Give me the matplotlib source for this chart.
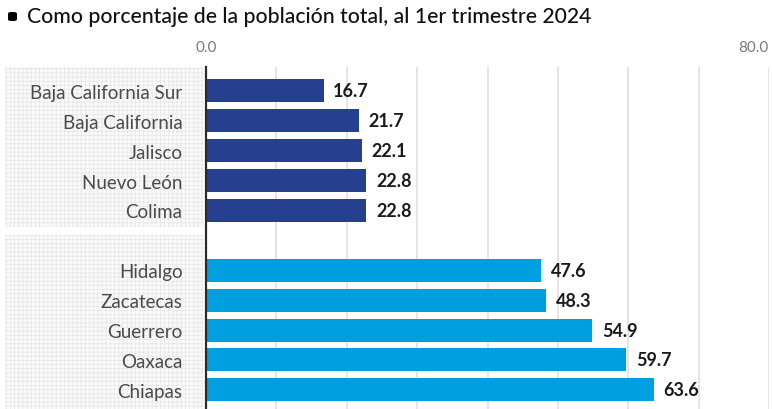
import matplotlib
matplotlib.use("Agg")
import matplotlib.pyplot as plt
import matplotlib.transforms as mtransforms
from matplotlib.patches import Rectangle, FancyBboxPatch

plt.rcParams['font.family'] = ['Lato', 'DejaVu Sans']
plt.rcParams['hatch.linewidth'] = 0.6

estados = ["Baja California Sur", "Baja California", "Jalisco", "Nuevo León", "Colima",
           "Hidalgo", "Zacatecas", "Guerrero", "Oaxaca", "Chiapas"]
valores = [16.7, 21.7, 22.1, 22.8, 22.8, 47.6, 48.3, 54.9, 59.7, 63.6]
grupo = [0, 0, 0, 0, 0, 1, 1, 1, 1, 1]  # 0 = menor, 1 = mayor
titulo = "Como porcentaje de la población total, al 1er trimestre 2024"

colores = ["#263f8e", "#009fe0"]
W, H = 772, 410

# one empty slot between the two groups
pos = [i + g for i, g in enumerate(grupo)]

fig = plt.figure(figsize=(W / 100, H / 100), dpi=100)
ax = fig.add_axes([206 / W, 0, 563 / W, 1 - 68 / H])
ax.set_zorder(2)
ax.patch.set_alpha(0)

ax.barh(pos, valores, height=0.77, color=[colores[g] for g in grupo], zorder=3)
for p, v in zip(pos, valores):
    ax.annotate(f"{v:.1f}", (v, p), xytext=(7, 0), textcoords="offset points",
                va="center", ha="left", fontsize=13, fontweight="bold", color="#1a1a1a")

ax.set_xlim(0, 80)
ax.set_ylim(10.64, -0.8)

ax.xaxis.tick_top()
ax.set_xticks([0, 80])
ax.set_xticklabels(["0.0", "80.0"])
ax.set_xticks(range(10, 80, 10), minor=True)
ax.tick_params(axis="x", which="both", length=0, pad=9, labelsize=11, labelcolor="#7a7a7a")
ax.grid(axis="x", which="both", color="#dedede", linewidth=1.1, zorder=0)
# last label sits left of its gridline so it stays inside the figure
last = ax.get_xticklabels()[-1]
last.set_transform(last.get_transform() + mtransforms.ScaledTranslation(-16 / 100, 0, fig.dpi_scale_trans))

ax.set_yticks(pos)
ax.set_yticklabels(estados)
ax.tick_params(axis="y", length=0, pad=17, labelsize=13.5, labelcolor="#4a4a4a")

for s in ["top", "right", "bottom"]:
    ax.spines[s].set_visible(False)
ax.spines["left"].set_color("#2b2b2b")
ax.spines["left"].set_linewidth(1.6)
ax.spines["left"].set_zorder(5)

# textured label panels behind the state names
trans = mtransforms.blended_transform_factory(fig.transFigure, ax.transData)
for y0, y1 in [(-0.8, 4.55), (4.82, 10.64)]:
    fig.patches.append(Rectangle((5 / W, y0), 198 / W, y1 - y0, transform=trans,
                                 facecolor="#fafafa", edgecolor="#e8e8e8", hatch="++++",
                                 linewidth=0, zorder=0))

# title with marker
fig.patches.append(FancyBboxPatch((8 / W, 1 - 22 / H), 9 / W, 9 / H, transform=fig.transFigure,
                                  boxstyle="round,pad=0,rounding_size=0.004",
                                  facecolor="black", edgecolor="none"))
fig.text(27 / W, 1 - 17 / H, titulo, fontsize=15.2, fontweight="medium",
         color="#111111", va="center", ha="left")

fig.savefig("out.png", dpi=100)
